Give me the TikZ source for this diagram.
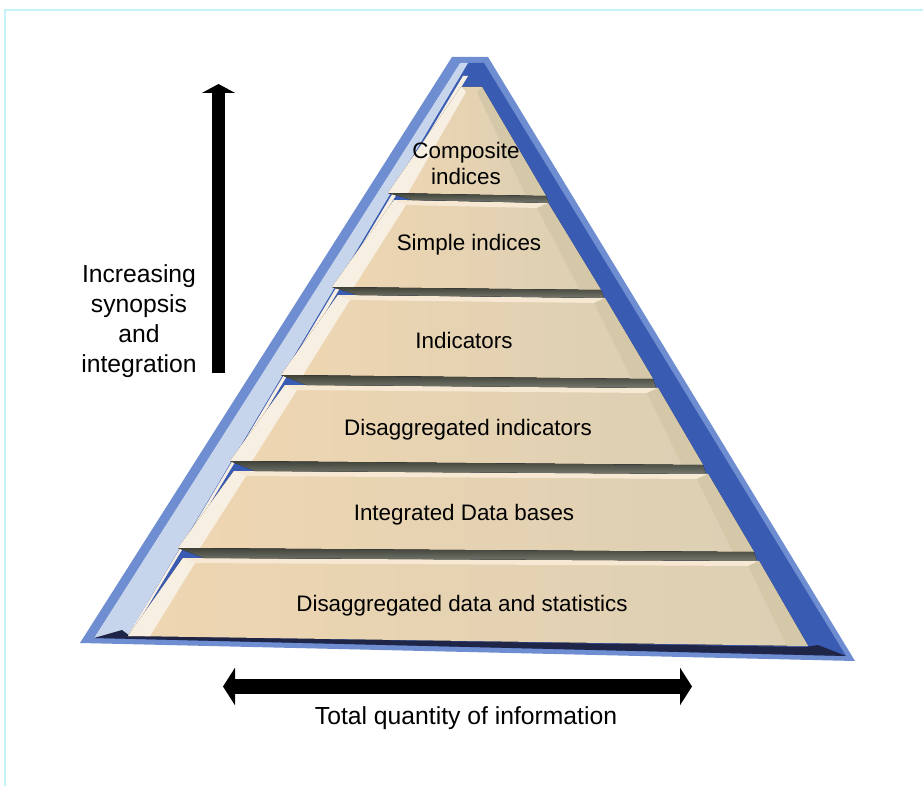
\documentclass[tikz,border=0pt]{standalone}
\usepackage{fontspec}
\setmainfont{Liberation Sans}
\usetikzlibrary{arrows.meta}
\definecolor{peach}{HTML}{EFD6B2}
\definecolor{sand}{HTML}{DCCFB3}
\definecolor{cream}{HTML}{F7EFE2}
\definecolor{khaki}{HTML}{D4C8A8}
\definecolor{lightpeach}{HTML}{F6E8D2}
\definecolor{groove}{HTML}{55584B}
\definecolor{frameblue}{HTML}{6F8ED2}
\definecolor{deepblue}{HTML}{3A5BB2}
\definecolor{paleblue}{HTML}{C6D5EC}
\definecolor{navy}{HTML}{1E2546}
\definecolor{edgecyan}{HTML}{C4F4F7}
\begin{document}
\begin{tikzpicture}[x=1pt,y=-1pt,
        slab/.style={left color=peach,right color=sand},
        lbev/.style={fill=cream},
        rbev/.style={fill=khaki},
        tbev/.style={fill=lightpeach},
        gap/.style={top color=groove!75!black,bottom color=groove!80!white},
        label/.style={font=\fontsize{22.4}{26}\selectfont,align=center,anchor=base},
        caption/.style={font=\fontsize{24.7}{30}\selectfont,align=center},
        uparrow/.style={line width=13pt,-{Triangle[length=9pt,width=33pt]}},
        sidearrow/.style={line width=15pt,{Triangle[length=12pt,width=37pt]}-{Triangle[length=12pt,width=37pt]}}]
\useasboundingbox (0,0) rectangle (923,786);
\fill[white] (0,0) rectangle (923,786);
\draw[edgecyan,line width=2pt] (923,10) -- (5,10) -- (5,786);

% blue frame
\fill[frameblue] (452,57) -- (488,57) -- (855,661) -- (80,643) -- cycle;
\fill[deepblue] (460,63) -- (484,63) -- (846,656) -- (94,638) -- cycle;
\fill[paleblue] (460,63) -- (468,63) -- (127,637) -- (94,638) -- cycle;
\fill[cream] (463,76) -- (468,76) -- (130,636) -- (127,637) -- cycle;
\fill[navy] (94,638) -- (122,630) -- (130,636) -- (805,647) -- (818,645) -- (846,656) -- cycle;

% layers
\fill[slab] (461,87) -- (482,87) -- (546,196) -- (388,193) -- cycle;
\fill[lbev] (461,87) -- (466,92) -- (408,193) -- (388,193) -- cycle;
\fill[rbev] (482,87) -- (546,196) -- (526,196) -- (477,92) -- cycle;

\fill[slab] (394,200) -- (548,203) -- (601,290) -- (332,287) -- cycle;
\fill[tbev] (394,200) -- (548,203) -- (540,208) -- (402,205) -- cycle;
\fill[lbev] (394,200) -- (406,205) -- (354,287) -- (332,287) -- cycle;
\fill[rbev] (548,203) -- (601,290) -- (580,290) -- (537,208) -- cycle;

\fill[slab] (338,295) -- (605,298) -- (653,379) -- (281,375) -- cycle;
\fill[tbev] (338,295) -- (605,298) -- (597,303) -- (346,300) -- cycle;
\fill[lbev] (338,295) -- (350,300) -- (303,375) -- (281,375) -- cycle;
\fill[rbev] (605,298) -- (653,379) -- (632,379) -- (594,303) -- cycle;

\fill[slab] (285,385) -- (658,388) -- (703,465) -- (230,461) -- cycle;
\fill[tbev] (285,385) -- (658,388) -- (650,393) -- (293,390) -- cycle;
\fill[lbev] (285,385) -- (297,390) -- (252,461) -- (230,461) -- cycle;
\fill[rbev] (658,388) -- (703,465) -- (682,465) -- (647,393) -- cycle;

\fill[slab] (234,471) -- (708,474) -- (754,552) -- (178,548) -- cycle;
\fill[tbev] (234,471) -- (708,474) -- (700,479) -- (242,476) -- cycle;
\fill[lbev] (234,471) -- (246,476) -- (200,548) -- (178,548) -- cycle;
\fill[rbev] (708,474) -- (754,552) -- (733,552) -- (697,479) -- cycle;

\fill[slab] (183,558) -- (759,561) -- (808,646) -- (128,636) -- cycle;
\fill[tbev] (183,558) -- (759,561) -- (751,566) -- (191,563) -- cycle;
\fill[lbev] (183,558) -- (195,563) -- (150,636) -- (128,636) -- cycle;
\fill[rbev] (759,561) -- (808,646) -- (787,646) -- (748,566) -- cycle;

% grooves
\fill[gap] (388,193) -- (412,200) -- (549,203) -- (546,196) -- cycle;
\fill[gap] (332,287) -- (357,295) -- (604,298) -- (601,290) -- cycle;
\fill[gap] (281,375) -- (306,385) -- (656,388) -- (653,379) -- cycle;
\fill[gap] (230,461) -- (255,471) -- (706,474) -- (703,465) -- cycle;
\fill[gap] (178,548) -- (204,558) -- (757,561) -- (754,552) -- cycle;

\node[label] (composite) at (466,184.5) {Composite\\indices};
\node[label] (simple) at (469,251) {Simple indices};
\node[label] (indicators) at (464,348) {Indicators};
\node[label] (disind) at (468,435) {Disaggregated indicators};
\node[label] (intdb) at (464,520) {Integrated Data bases};
\node[label] (disdata) at (462,611) {Disaggregated data and statistics};

\coordinate (low) at (218.5,373);
\coordinate (high) at (218.5,84);
\draw[uparrow] (low) -- (high);
\node[caption] (synopsis) at (139,321) {Increasing\\synopsis\\and\\integration};

\coordinate (less) at (223,686.5);
\coordinate (more) at (692,686.5);
\draw[sidearrow] (less) -- (more);
\node[caption,anchor=base] (quantity) at (466,724) {Total quantity of information};
\end{tikzpicture}
\end{document}
